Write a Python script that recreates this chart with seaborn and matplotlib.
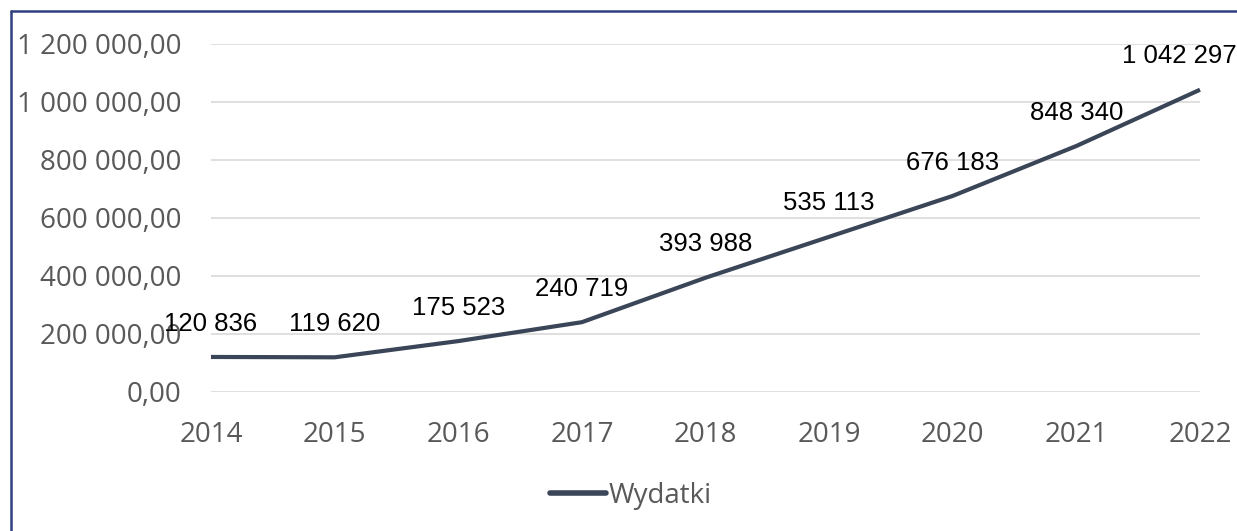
import matplotlib
matplotlib.use("Agg")
import matplotlib.pyplot as plt
from matplotlib.ticker import FuncFormatter
from matplotlib.lines import Line2D
import seaborn as sns
import pandas as pd

years = [2014, 2015, 2016, 2017, 2018, 2019, 2020, 2021, 2022]
wydatki = [120836, 119620, 175523, 240719, 393988, 535113, 676183, 848340, 1042297]
series_name = "Wydatki"
yticks = [0, 200000, 400000, 600000, 800000, 1000000, 1200000]

sns.set_theme(style="white")
plt.rcParams['font.family'] = ['Open Sans', 'DejaVu Sans']

df = pd.DataFrame({"Rok": years, series_name: wydatki})

fig = plt.figure(figsize=(12.37, 5.31), dpi=100)
ax = fig.add_axes([211/1237, 1-392/531, (1200-211)/1237, (392-44)/531])

line_color = "#3B4558"
sns.lineplot(data=df, x="Rok", y=series_name, ax=ax, color=line_color,
             linewidth=3.0, legend=False, clip_on=False, solid_capstyle="butt")

ax.set_xlim(years[0], years[-1])
ax.set_ylim(0, 1200000)
ax.set_yticks(yticks)
ax.set_xticks(years)

def fmt_y(v, pos):
    s = f"{v:,.2f}"
    s = s.replace(",", " ").replace(".", ",")
    return s

ax.yaxis.set_major_formatter(FuncFormatter(fmt_y))
ax.set_xticklabels([str(y) for y in years])
ax.tick_params(axis="both", length=0, labelsize=20, colors="#595959")
ax.tick_params(axis="y", pad=21)
ax.tick_params(axis="x", pad=21)
ax.set_xlabel("")
ax.set_ylabel("")
for sp in ax.spines.values():
    sp.set_visible(False)
ax.grid(axis="y", color="#D9D9D9", linewidth=1.2)
ax.set_axisbelow(True)

n = len(years)
for i, (x, v) in enumerate(zip(years, wydatki)):
    lab = f"{v:,}".replace(",", " ")
    dx = -15 if i == n - 1 else 0
    ax.annotate(lab, (x, v), xytext=(dx, 24), textcoords="offset points",
                ha="center", va="center", fontsize=18.5, color="black",
                family="Liberation Sans", annotation_clip=False)

handle = Line2D([0], [0], color=line_color, linewidth=4, solid_capstyle="round")
fig.legend([handle], [series_name], loc="center", bbox_to_anchor=(0.51, 0.066),
           frameon=False, fontsize=20, labelcolor="#595959",
           handlelength=2.0, handletextpad=0.1)

border_color = "#2E4080"
fig.add_artist(Line2D([11/1237, 11/1237], [0, 1-11/531], color=border_color,
                      linewidth=1.8, transform=fig.transFigure))
fig.add_artist(Line2D([11/1237, 1], [1-11/531, 1-11/531], color=border_color,
                      linewidth=1.8, transform=fig.transFigure))

fig.savefig("out.png", dpi=100)
